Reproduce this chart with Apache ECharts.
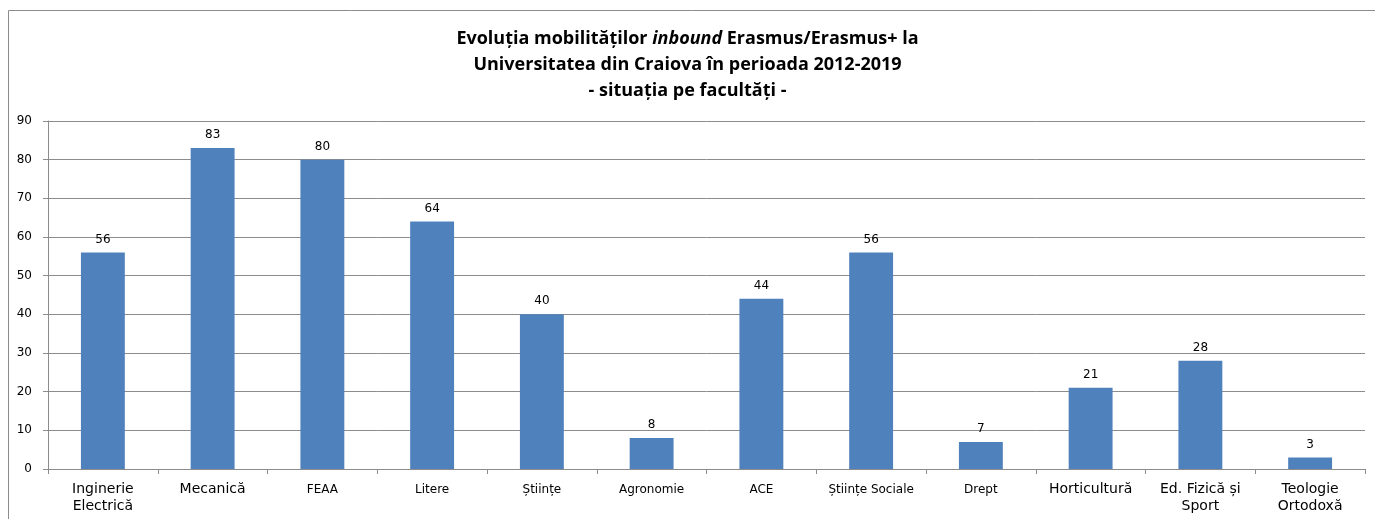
<!DOCTYPE html>
<html>
<head>
<meta charset="utf-8">
<script src="https://cdn.jsdelivr.net/npm/echarts@6/dist/echarts.min.js"></script>
<style>
  html, body { margin: 0; padding: 0; background: #fff; }
  #chart { width: 1375px; height: 519px; }
</style>
</head>
<body>
<div id="chart"></div>
<script>
// facultati si numar mobilitati inbound
const facultati = ['Inginerie\nElectrică', 'Mecanică', 'FEAA', 'Litere', 'Științe', 'Agronomie',
  'ACE', 'Științe Sociale', 'Drept', 'Horticultură', 'Ed. Fizică și\nSport', 'Teologie\nOrtodoxă'];
const mobilitati = [56, 83, 80, 64, 40, 8, 44, 56, 7, 21, 28, 3];
const etichetaMica = ['FEAA', 'Litere', 'Științe', 'Agronomie', 'ACE', 'Științe Sociale', 'Drept'];

const myChart = echarts.init(document.getElementById('chart'));

const option = {
  animation: false,
  title: {
    text: '{b|Evoluția mobilităților }{i|inbound}{b| Erasmus/Erasmus+ la}\n{b|Universitatea din Craiova în perioada 2012-2019}\n{b|- situația pe facultăți -}',
    left: 'center',
    top: 21,
    textStyle: {
      rich: {
        b: { fontFamily: 'Open Sans', fontWeight: 'bold', fontSize: 18, color: '#000', lineHeight: 26 },
        i: { fontFamily: 'Open Sans', fontWeight: 'bold', fontStyle: 'italic', fontSize: 18, color: '#000', lineHeight: 26 }
      }
    }
  },
  graphic: [{
    type: 'rect',
    shape: { x: 8.5, y: 10.5, width: 1400, height: 560 },
    style: { fill: 'none', stroke: '#8c8c8c', lineWidth: 1 },
    silent: true
  }],
  grid: { left: 48, right: 10, top: 121, bottom: 50 },
  xAxis: {
    type: 'category',
    data: facultati.map(f => etichetaMica.includes(f)
      ? { value: f, textStyle: { fontSize: 12 } }
      : f),
    axisLine: { lineStyle: { color: '#8c8c8c' } },
    axisTick: { show: true, length: 5, alignWithLabel: false, lineStyle: { color: '#8c8c8c' } },
    axisLabel: {
      interval: 0,
      color: '#000',
      fontFamily: 'DejaVu Sans',
      fontSize: 14,
      lineHeight: 17,
      margin: 12
    }
  },
  yAxis: {
    type: 'value',
    min: 0,
    max: 90,
    interval: 10,
    axisLine: { show: true, lineStyle: { color: '#8c8c8c' } },
    axisTick: { show: true, length: 5, lineStyle: { color: '#8c8c8c' } },
    splitLine: { lineStyle: { color: '#8c8c8c' } },
    axisLabel: { color: '#000', fontFamily: 'DejaVu Sans', fontSize: 12, margin: 16 }
  },
  series: [{
    type: 'bar',
    data: mobilitati,
    barWidth: '40%',
    itemStyle: { color: '#4F81BD' },
    label: {
      show: true,
      position: 'top',
      distance: 7,
      color: '#000',
      fontFamily: 'DejaVu Sans',
      fontSize: 12
    }
  }]
};
myChart.setOption(option);
</script>
</body>
</html>
